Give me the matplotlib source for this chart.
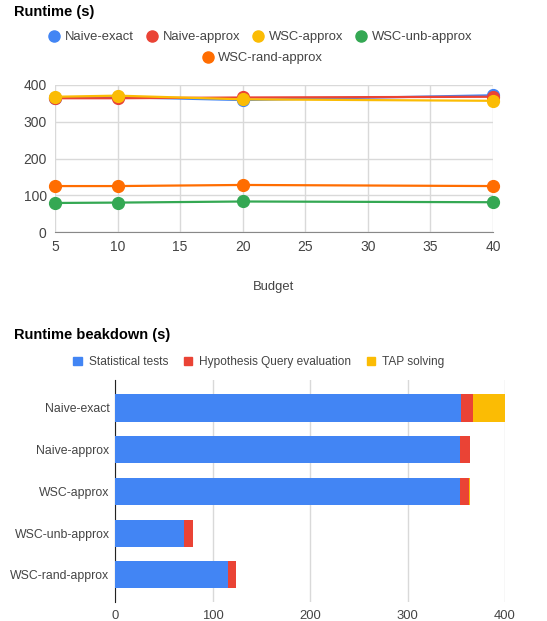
import matplotlib
matplotlib.use("Agg")
import matplotlib.pyplot as plt
from matplotlib.lines import Line2D
from matplotlib.patches import Patch

plt.rcParams['font.family'] = ['Liberation Sans', 'DejaVu Sans']

# Runtime per budget
budgets = [5, 10, 20, 40]
naive_exact = [365, 367, 359, 372]
naive_approx = [364, 364, 366, 368]
wsc_approx = [368, 371, 361, 357]
wsc_unb_approx = [79, 80, 83, 81]
wsc_rand_approx = [125, 125, 128, 125]

line_series = ["Naive-exact", "Naive-approx", "WSC-approx", "WSC-unb-approx", "WSC-rand-approx"]
line_values = [naive_exact, naive_approx, wsc_approx, wsc_unb_approx, wsc_rand_approx]
line_colors = ["#4285F4", "#EA4335", "#FBBC04", "#34A853", "#FF6D01"]

# Runtime breakdown
methods = ["Naive-exact", "Naive-approx", "WSC-approx", "WSC-unb-approx", "WSC-rand-approx"]
stat_tests = [354.5, 354, 354, 71, 116]
hyp_query = [12.3, 10, 9.5, 8.8, 7.8]
tap_solving = [33.2, 0.6, 0.4, 0.6, 0.6]
part_names = ["Statistical tests", "Hypothesis Query evaluation", "TAP solving"]
part_colors = ["#4285F4", "#EA4335", "#FBBC04"]

W, H = 547, 621
fig = plt.figure(figsize=(W / 100, H / 100), dpi=100)
grid_c = "#d9d9d9"
txt_c = "#444444"

def ax_rect(x0, y0, x1, y1):
    return [x0 / W, 1 - y1 / H, (x1 - x0) / W, (y1 - y0) / H]

# ---- Line chart ----
ax1 = fig.add_axes(ax_rect(55, 85, 493, 232))
for name, vals, c in zip(line_series, line_values, line_colors):
    ax1.plot(budgets, vals, color=c, lw=1.6, marker='o', ms=8.5, label=name,
             clip_on=False, zorder=3)
ax1.set_xlim(5, 40)
ax1.set_ylim(0, 400)
ax1.set_xticks(range(5, 41, 5))
ax1.set_yticks(range(0, 401, 100))
ax1.grid(True, color=grid_c, lw=1)
ax1.set_axisbelow(True)
for s in ["top", "right", "left"]:
    ax1.spines[s].set_visible(False)
ax1.spines["bottom"].set_color("#888888")
ax1.tick_params(length=0, labelsize=10, colors=txt_c, pad=6)
ax1.set_xlabel("Budget", fontsize=9.4, color=txt_c, labelpad=19)

fig.text(14 / W, 1 - 12 / H, "Runtime (s)", fontsize=10.5, fontweight='bold',
         va='center', ha='left')

h1 = [Line2D([], [], ls='none', marker='o', ms=8, color=c) for c in line_colors]
fig.legend(h1[:4], line_series[:4], loc='center', bbox_to_anchor=(260 / W, 1 - 37 / H),
           ncol=4, frameon=False, fontsize=9.4, handletextpad=0.3,
           columnspacing=0.9, labelcolor=txt_c, handlelength=1.0)
fig.legend(h1[4:], line_series[4:], loc='center', bbox_to_anchor=(262 / W, 1 - 58 / H),
           ncol=1, frameon=False, fontsize=9.4, handletextpad=0.3,
           labelcolor=txt_c, handlelength=1.0)

# ---- Stacked bar chart ----
ax2 = fig.add_axes(ax_rect(115, 380, 505, 602))
ypos = list(range(len(methods)))
left = [0] * len(methods)
for vals, c, name in zip([stat_tests, hyp_query, tap_solving], part_colors, part_names):
    ax2.barh(ypos, vals, left=left, height=0.65, color=c, label=name, zorder=3)
    left = [a + b for a, b in zip(left, vals)]
ax2.set_ylim(4.65, -0.67)
ax2.set_xlim(0, 400)
ax2.set_xticks(range(0, 401, 100))
ax2.set_yticks(ypos)
ax2.set_yticklabels(methods)
ax2.grid(True, axis='x', color=grid_c, lw=1)
ax2.set_axisbelow(True)
for s in ["top", "right", "bottom"]:
    ax2.spines[s].set_visible(False)
ax2.spines["left"].set_color("#222222")
ax2.tick_params(length=0, labelsize=8.8, colors=txt_c)
ax2.tick_params(axis='x', pad=6, labelsize=9.4)
ax2.tick_params(axis='y', pad=4)

fig.text(14 / W, 1 - 335 / H, "Runtime beakdown (s)", fontsize=10.5, fontweight='bold',
         va='center', ha='left')
h2 = [Patch(color=c) for c in part_colors]
fig.legend(h2, part_names, loc='center', bbox_to_anchor=(259 / W, 1 - 362 / H),
           ncol=3, frameon=False, fontsize=8.6, handletextpad=0.6,
           columnspacing=1.3, labelcolor=txt_c, handlelength=0.7, handleheight=0.7)

fig.savefig("out.png", dpi=100)
